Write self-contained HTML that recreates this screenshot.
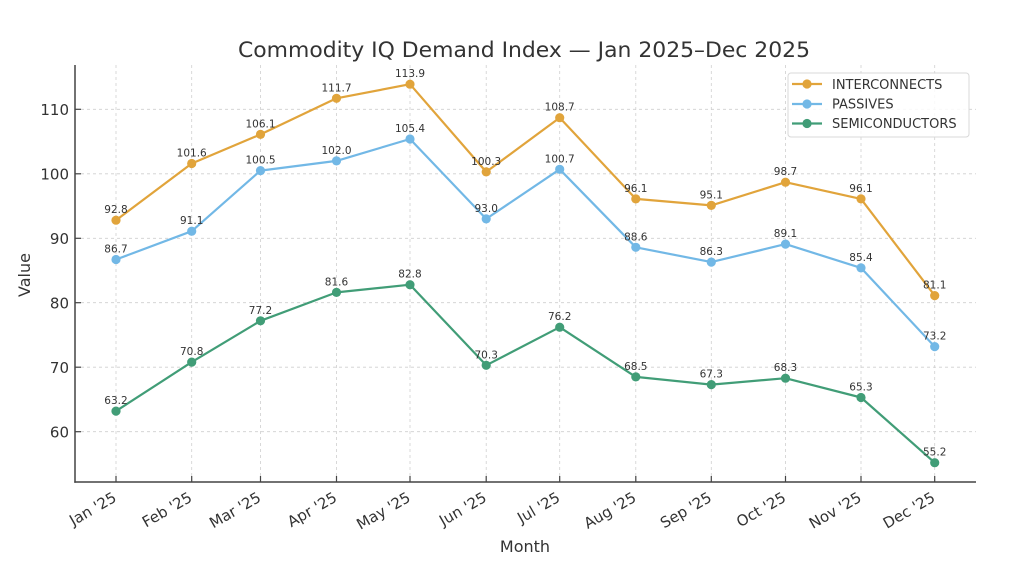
<!DOCTYPE html>
<html>
<head>
<meta charset="utf-8">
<style>
html,body{margin:0;padding:0;background:#fff;}
svg{display:block;}
text{font-family:"DejaVu Sans","Liberation Sans",sans-serif;fill:#333;}
</style>
</head>
<body>
<svg width="1024" height="571" viewBox="0 0 1024 571" xmlns="http://www.w3.org/2000/svg">
<rect width="1024" height="571" fill="#fff"/>
<!-- title -->
<text x="524" y="57" font-size="21" text-anchor="middle" fill="#3a3a3a" textLength="572" lengthAdjust="spacingAndGlyphs">Commodity IQ Demand Index — Jan 2025–Dec 2025</text>

<!-- grid -->
<g stroke="#cfcfcf" stroke-width="0.8" stroke-dasharray="3,3" fill="none">
<line x1="75" y1="431.7" x2="976" y2="431.7"/>
<line x1="75" y1="367.2" x2="976" y2="367.2"/>
<line x1="75" y1="302.7" x2="976" y2="302.7"/>
<line x1="75" y1="238.3" x2="976" y2="238.3"/>
<line x1="75" y1="173.8" x2="976" y2="173.8"/>
<line x1="75" y1="109.3" x2="976" y2="109.3"/>
<line x1="116" y1="65" x2="116" y2="482"/>
<line x1="191.7" y1="65" x2="191.7" y2="482"/>
<line x1="260.5" y1="65" x2="260.5" y2="482"/>
<line x1="336.5" y1="65" x2="336.5" y2="482"/>
<line x1="410" y1="65" x2="410" y2="482"/>
<line x1="486.2" y1="65" x2="486.2" y2="482"/>
<line x1="559.7" y1="65" x2="559.7" y2="482"/>
<line x1="635.8" y1="65" x2="635.8" y2="482"/>
<line x1="711.3" y1="65" x2="711.3" y2="482"/>
<line x1="785.5" y1="65" x2="785.5" y2="482"/>
<line x1="861" y1="65" x2="861" y2="482"/>
<line x1="934.7" y1="65" x2="934.7" y2="482"/>
</g>

<!-- spines -->
<g stroke="#444" stroke-width="1.5" fill="none">
<line x1="75" y1="65" x2="75" y2="482.7"/>
<line x1="74.3" y1="482" x2="976" y2="482"/>
</g>
<!-- ticks (inward) -->
<g stroke="#444" stroke-width="1.2">
<line x1="75" y1="431.7" x2="81" y2="431.7"/>
<line x1="75" y1="367.2" x2="81" y2="367.2"/>
<line x1="75" y1="302.7" x2="81" y2="302.7"/>
<line x1="75" y1="238.3" x2="81" y2="238.3"/>
<line x1="75" y1="173.8" x2="81" y2="173.8"/>
<line x1="75" y1="109.3" x2="81" y2="109.3"/>
<line x1="116" y1="482" x2="116" y2="476"/>
<line x1="191.7" y1="482" x2="191.7" y2="476"/>
<line x1="260.5" y1="482" x2="260.5" y2="476"/>
<line x1="336.5" y1="482" x2="336.5" y2="476"/>
<line x1="410" y1="482" x2="410" y2="476"/>
<line x1="486.2" y1="482" x2="486.2" y2="476"/>
<line x1="559.7" y1="482" x2="559.7" y2="476"/>
<line x1="635.8" y1="482" x2="635.8" y2="476"/>
<line x1="711.3" y1="482" x2="711.3" y2="476"/>
<line x1="785.5" y1="482" x2="785.5" y2="476"/>
<line x1="861" y1="482" x2="861" y2="476"/>
<line x1="934.7" y1="482" x2="934.7" y2="476"/>
</g>

<!-- y tick labels -->
<g font-size="15" text-anchor="end">
<text x="69" y="437.5">60</text>
<text x="69" y="373">70</text>
<text x="69" y="308.5">80</text>
<text x="69" y="244">90</text>
<text x="69" y="179.5">100</text>
<text x="69" y="115">110</text>
</g>

<!-- x tick labels -->
<g font-size="15" text-anchor="end">
<text transform="translate(117.5,500.5) rotate(-30)">Jan '25</text>
<text transform="translate(193.2,500.5) rotate(-30)">Feb '25</text>
<text transform="translate(262,500.5) rotate(-30)">Mar '25</text>
<text transform="translate(338,500.5) rotate(-30)">Apr '25</text>
<text transform="translate(411.5,500.5) rotate(-30)">May '25</text>
<text transform="translate(487.7,500.5) rotate(-30)">Jun '25</text>
<text transform="translate(561.2,500.5) rotate(-30)">Jul '25</text>
<text transform="translate(637.3,500.5) rotate(-30)">Aug '25</text>
<text transform="translate(712.8,500.5) rotate(-30)">Sep '25</text>
<text transform="translate(787,500.5) rotate(-30)">Oct '25</text>
<text transform="translate(862.5,500.5) rotate(-30)">Nov '25</text>
<text transform="translate(936.2,500.5) rotate(-30)">Dec '25</text>
</g>

<!-- axis labels -->
<text x="525" y="552" font-size="16" text-anchor="middle">Month</text>
<text transform="translate(30,275) rotate(-90)" font-size="16" text-anchor="middle">Value</text>

<!-- INTERCONNECTS -->
<g fill="#E1A43B" stroke="#E1A43B">
<polyline fill="none" stroke-width="2.2" stroke-linejoin="round" points="116,220.2 191.7,163.5 260.5,134.4 336.5,98.3 410,84.2 486.2,171.9 559.7,117.7 635.8,198.9 711.3,205.4 785.5,182.2 861,198.9 934.7,295.6"/>
<g stroke="none">
<circle cx="116" cy="220.2" r="4.6"/><circle cx="191.7" cy="163.5" r="4.6"/><circle cx="260.5" cy="134.4" r="4.6"/><circle cx="336.5" cy="98.3" r="4.6"/><circle cx="410" cy="84.2" r="4.6"/><circle cx="486.2" cy="171.9" r="4.6"/><circle cx="559.7" cy="117.7" r="4.6"/><circle cx="635.8" cy="198.9" r="4.6"/><circle cx="711.3" cy="205.4" r="4.6"/><circle cx="785.5" cy="182.2" r="4.6"/><circle cx="861" cy="198.9" r="4.6"/><circle cx="934.7" cy="295.6" r="4.6"/>
</g>
</g>

<!-- PASSIVES -->
<g fill="#72B8E6" stroke="#72B8E6">
<polyline fill="none" stroke-width="2.2" stroke-linejoin="round" points="116,259.5 191.7,231.2 260.5,170.6 336.5,160.9 410,139.0 486.2,218.9 559.7,169.3 635.8,247.3 711.3,262.1 785.5,244.1 861,267.9 934.7,346.6"/>
<g stroke="none">
<circle cx="116" cy="259.5" r="4.6"/><circle cx="191.7" cy="231.2" r="4.6"/><circle cx="260.5" cy="170.6" r="4.6"/><circle cx="336.5" cy="160.9" r="4.6"/><circle cx="410" cy="139.0" r="4.6"/><circle cx="486.2" cy="218.9" r="4.6"/><circle cx="559.7" cy="169.3" r="4.6"/><circle cx="635.8" cy="247.3" r="4.6"/><circle cx="711.3" cy="262.1" r="4.6"/><circle cx="785.5" cy="244.1" r="4.6"/><circle cx="861" cy="267.9" r="4.6"/><circle cx="934.7" cy="346.6" r="4.6"/>
</g>
</g>

<!-- SEMICONDUCTORS -->
<g fill="#419D77" stroke="#419D77">
<polyline fill="none" stroke-width="2.2" stroke-linejoin="round" points="116,411.1 191.7,362.1 260.5,320.8 336.5,292.4 410,284.7 486.2,365.3 559.7,327.2 635.8,376.9 711.3,384.6 785.5,378.2 861,397.5 934.7,462.7"/>
<g stroke="none">
<circle cx="116" cy="411.1" r="4.6"/><circle cx="191.7" cy="362.1" r="4.6"/><circle cx="260.5" cy="320.8" r="4.6"/><circle cx="336.5" cy="292.4" r="4.6"/><circle cx="410" cy="284.7" r="4.6"/><circle cx="486.2" cy="365.3" r="4.6"/><circle cx="559.7" cy="327.2" r="4.6"/><circle cx="635.8" cy="376.9" r="4.6"/><circle cx="711.3" cy="384.6" r="4.6"/><circle cx="785.5" cy="378.2" r="4.6"/><circle cx="861" cy="397.5" r="4.6"/><circle cx="934.7" cy="462.7" r="4.6"/>
</g>
</g>

<!-- data labels -->
<g font-size="10.5" text-anchor="middle" fill="#444">
<text x="116" y="213.2">92.8</text>
<text x="191.7" y="156.5">101.6</text>
<text x="260.5" y="127.4">106.1</text>
<text x="336.5" y="91.3">111.7</text>
<text x="410" y="77.2">113.9</text>
<text x="486.2" y="164.9">100.3</text>
<text x="559.7" y="110.7">108.7</text>
<text x="635.8" y="191.9">96.1</text>
<text x="711.3" y="198.4">95.1</text>
<text x="785.5" y="175.2">98.7</text>
<text x="861" y="191.9">96.1</text>
<text x="934.7" y="288.6">81.1</text>

<text x="116" y="252.5">86.7</text>
<text x="191.7" y="224.2">91.1</text>
<text x="260.5" y="163.6">100.5</text>
<text x="336.5" y="153.9">102.0</text>
<text x="410" y="132.0">105.4</text>
<text x="486.2" y="211.9">93.0</text>
<text x="559.7" y="162.3">100.7</text>
<text x="635.8" y="240.3">88.6</text>
<text x="711.3" y="255.1">86.3</text>
<text x="785.5" y="237.1">89.1</text>
<text x="861" y="260.9">85.4</text>
<text x="934.7" y="339.6">73.2</text>

<text x="116" y="404.1">63.2</text>
<text x="191.7" y="355.1">70.8</text>
<text x="260.5" y="313.8">77.2</text>
<text x="336.5" y="285.4">81.6</text>
<text x="410" y="277.7">82.8</text>
<text x="486.2" y="358.3">70.3</text>
<text x="559.7" y="320.2">76.2</text>
<text x="635.8" y="369.9">68.5</text>
<text x="711.3" y="377.6">67.3</text>
<text x="785.5" y="371.2">68.3</text>
<text x="861" y="390.5">65.3</text>
<text x="934.7" y="455.7">55.2</text>
</g>

<!-- legend -->
<rect x="788" y="73" width="181" height="64" rx="3" ry="3" fill="#fff" fill-opacity="0.85" stroke="#d8d8d8" stroke-width="1"/>
<g stroke-width="2.2">
<line x1="792" y1="84" x2="822" y2="84" stroke="#E1A43B"/>
<circle cx="807" cy="84" r="4.6" fill="#E1A43B" stroke="none"/>
<line x1="792" y1="104" x2="822" y2="104" stroke="#72B8E6"/>
<circle cx="807" cy="104" r="4.6" fill="#72B8E6" stroke="none"/>
<line x1="792" y1="123.5" x2="822" y2="123.5" stroke="#419D77"/>
<circle cx="807" cy="123.5" r="4.6" fill="#419D77" stroke="none"/>
</g>
<g font-size="13">
<text x="832" y="89">INTERCONNECTS</text>
<text x="832" y="108.5">PASSIVES</text>
<text x="832" y="128">SEMICONDUCTORS</text>
</g>
</svg>
</body>
</html>
